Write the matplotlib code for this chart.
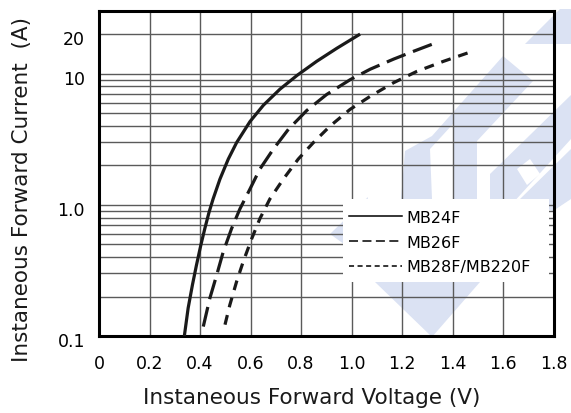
import matplotlib
matplotlib.use("Agg")
import matplotlib.pyplot as plt
from matplotlib.lines import Line2D
from matplotlib.patches import Polygon, Rectangle
from matplotlib.ticker import FixedLocator, NullFormatter
from matplotlib.transforms import ScaledTranslation

# ---- data ----
v_mb24f = [0.338, 0.353, 0.370, 0.386, 0.403, 0.419, 0.436, 0.452, 0.479, 0.512, 0.545,
           0.598, 0.651, 0.717, 0.785, 0.862, 0.942, 1.034]
i_mb24f = [0.10, 0.163, 0.245, 0.347, 0.49, 0.658, 0.88, 1.11, 1.57, 2.23, 2.98,
           4.31, 5.74, 7.62, 9.71, 12.4, 15.6, 20.0]

v_mb26f = [0.413, 0.439, 0.466, 0.492, 0.525, 0.558, 0.598, 0.637, 0.690, 0.750, 0.823,
           0.902, 0.994, 1.074, 1.167, 1.246, 1.325]
i_mb26f = [0.118, 0.194, 0.291, 0.438, 0.658, 0.93, 1.32, 1.87, 2.65, 3.76, 5.24,
           6.94, 8.97, 10.8, 12.9, 14.8, 16.9]

v_mb28f = [0.499, 0.518, 0.545, 0.571, 0.605, 0.637, 0.677, 0.730, 0.789, 0.849, 0.915,
           0.994, 1.074, 1.166, 1.259, 1.364, 1.484]
i_mb28f = [0.122, 0.172, 0.26, 0.368, 0.553, 0.783, 1.11, 1.57, 2.23, 2.98, 3.98,
           5.33, 6.71, 8.51, 10.4, 12.4, 14.9]

series_labels = ["MB24F", "MB26F", "MB28F/MB220F"]
x_ticks = [0, 0.2, 0.4, 0.6, 0.8, 1.0, 1.2, 1.4, 1.6, 1.8]
x_tick_labels = ["0", "0.2", "0.4", "0.6", "0.8", "1.0", "1.2", "1.4", "1.6", "1.8"]
y_ticks = [0.1, 1.0, 10, 20]
y_tick_labels = ["0.1", "1.0", "10", "20"]
y_minor = [0.2, 0.3, 0.4, 0.5, 0.6, 0.7, 0.8, 0.9, 2, 3, 4, 5, 6, 7, 8, 9]

W, H = 571, 414
fig = plt.figure(figsize=(W / 100, H / 100), dpi=100)
fig.patch.set_facecolor("white")

# ---- watermark (background decoration), in image pixel coords ----
wm_color = "#dbe2f3"
def px(pts):
    return [(x / W, 1 - y / H) for x, y in pts]

wm_shapes = [
    [(525, 45), (560, 10), (571, 10), (571, 45)],
    [(503, 57), (533, 82), (477, 142), (477, 200), (453, 200), (453, 125), (430, 150), (432, 200), (401, 200), (405, 152), (432, 137)],
    [(571, 96), (571, 140), (512, 205), (490, 205), (490, 175)],
    [(520, 200), (571, 150), (571, 200), (553, 212)],
    [(330, 235), (368, 198), (362, 258)],
    [(375, 283), (480, 283), (432, 338)],
]
for s in wm_shapes:
    fig.patches.append(Polygon(px(s), closed=True, transform=fig.transFigure,
                               facecolor=wm_color, edgecolor="none", zorder=0))
wm_holes = [
    [(482, 140), (492, 131), (499, 141), (489, 150)],
    [(517, 170), (530, 160), (540, 175), (527, 186)],
]
for s in wm_holes:
    fig.patches.append(Polygon(px(s), closed=True, transform=fig.transFigure,
                               facecolor="white", edgecolor="none", zorder=0.1))

# ---- axes ----
ax = fig.add_axes([99 / W, 1 - 337 / H, 454.5 / W, 325 / H])
ax.set_zorder(1)
ax.set_facecolor("none")
ax.set_yscale("log")
ax.set_xlim(0, 1.8)
ax.set_ylim(0.1, 30)
ax.set_axisbelow(True)

ax.set_xticks(x_ticks)
ax.set_xticklabels(x_tick_labels)
ax.set_yticks(y_ticks)
ax.set_yticklabels(y_tick_labels)
ax.yaxis.set_minor_locator(FixedLocator(y_minor))
ax.yaxis.set_minor_formatter(NullFormatter())
ax.tick_params(axis="both", which="both", length=0)
ax.tick_params(axis="x", pad=13, labelsize=12.5)
ax.tick_params(axis="y", pad=10, labelsize=12.5)
shift = ScaledTranslation(0, -3 / 100, fig.dpi_scale_trans)
for lab in ax.get_yticklabels():
    lab.set_transform(lab.get_transform() + shift)

grid_kw = dict(color="#5a5a5a", linewidth=1.0)
ax.grid(True, which="major", axis="both", **grid_kw)
ax.grid(True, which="minor", axis="y", **grid_kw)

for sp in ax.spines.values():
    sp.set_linewidth(2.2)
    sp.set_color("black")

lw = 2.3
ax.plot(v_mb24f, i_mb24f, color="#1a1a1a", lw=lw, solid_capstyle="butt",
        solid_joinstyle="round", zorder=3)
ax.plot(v_mb26f, i_mb26f, color="#1a1a1a", lw=lw, dashes=(6.3, 2.5), zorder=3)
ax.plot(v_mb28f, i_mb28f, color="#1a1a1a", lw=lw, dashes=(3.1, 2.5), zorder=3)

# ---- legend ----
ax.add_patch(Rectangle((0.537, 0.166), 0.453, 0.2555, transform=ax.transAxes,
                       facecolor="white", edgecolor="none", zorder=2))
handles = [
    Line2D([], [], color="black", lw=1.1),
    Line2D([], [], color="black", lw=1.1, dashes=(5.9, 2.9)),
    Line2D([], [], color="black", lw=1.1, dashes=(3.3, 2.3)),
]
leg = ax.legend(handles, series_labels, loc="center left", bbox_to_anchor=(0.550, 0.289),
                frameon=False, borderpad=0, borderaxespad=0, handlelength=3.3,
                handletextpad=0.3, labelspacing=0.62, fontsize=11.5)
leg.set_zorder(4)

# ---- axis titles ----
fig.text(311.7 / W, 1 - 398 / H, "Instaneous Forward Voltage (V)", ha="center", va="center",
         fontsize=15.5, color="#1a1a1a")
fig.text(22 / W, 1 - 189.5 / H, "Instaneous Forward Current  (A)", ha="center", va="center",
         rotation=90, fontsize=15.5, color="#1a1a1a")

fig.savefig("out.png", dpi=100)
